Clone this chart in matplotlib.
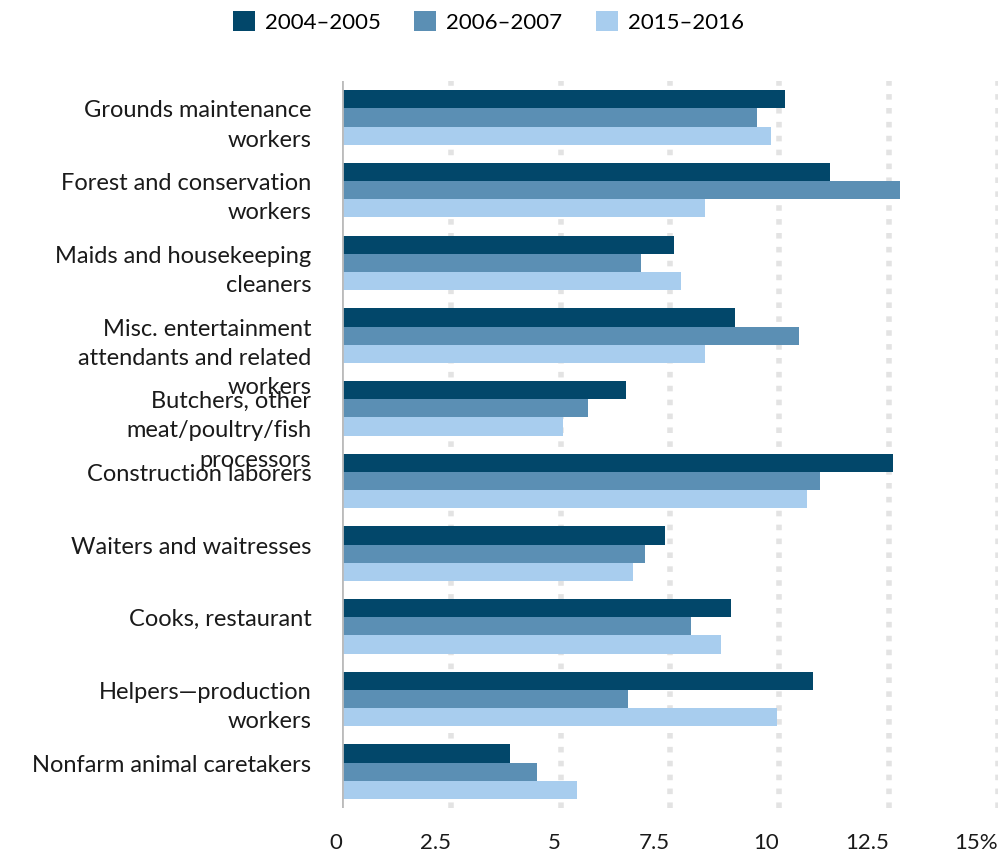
"""
Occupations share chart
Grouped horizontal bars for three periods
"""

import matplotlib.pyplot as plt
import numpy as np

plt.rcParams['font.family'] = ['Lato', 'DejaVu Sans']

DARK = '#02476a'
MID = '#5b8fb4'
LIGHT = '#a8cdee'

occupations = [
    'Grounds maintenance\nworkers',
    'Forest and conservation\nworkers',
    'Maids and housekeeping\ncleaners',
    'Misc. entertainment\nattendants and related\nworkers',
    'Butchers, other\nmeat/poultry/fish\nprocessors',
    'Construction laborers',
    'Waiters and waitresses',
    'Cooks, restaurant',
    'Helpers\u2014production\nworkers',
    'Nonfarm animal caretakers',
]
p2004 = [10.13, 11.15, 7.6, 8.99, 6.5, 12.6, 7.38, 8.9, 10.77, 3.85]
p2006 = [9.5, 12.75, 6.83, 10.45, 5.63, 10.92, 6.92, 7.98, 6.55, 4.45]
p2015 = [9.82, 8.3, 7.75, 8.3, 5.05, 10.63, 6.65, 8.67, 9.95, 5.37]
series_labels = ['2004\u20132005', '2006\u20132007', '2015\u20132016']
xticks = [0, 2.5, 5, 7.5, 10, 12.5, 15]
xtick_labels = ['0', '2.5', '5', '7.5', '10', '12.5', '15%']

fig = plt.figure(figsize=(10.03, 8.55), dpi=100)
ax = fig.add_axes([0.341, 0.055, 0.654, 0.85])

y = np.arange(len(occupations))
h = 0.25
ax.barh(y - h, p2004, height=h, color=DARK, label=series_labels[0], zorder=3)
ax.barh(y, p2006, height=h, color=MID, label=series_labels[1], zorder=3)
ax.barh(y + h, p2015, height=h, color=LIGHT, label=series_labels[2], zorder=3)

ax.set_xlim(0, 15)
ax.set_ylim(len(occupations) - 0.5, -0.5)

# dotted vertical grid
for xv in xticks[1:]:
    ax.axvline(xv, color='#e3e3e3', linewidth=4, linestyle=(0, (1, 1.5)), zorder=1)
ax.axvline(0, color='#bbbbbb', linewidth=2, zorder=4)

for s in ax.spines.values():
    s.set_visible(False)
ax.set_yticks([])
ax.set_xticks(xticks)
ax.set_xticklabels(xtick_labels, fontsize=16, color='#1a1a1a', ha='right')
ax.tick_params(axis='x', length=0, pad=18)

# category labels, top-anchored at the top of each group
for i, name in enumerate(occupations):
    ax.text(-0.7, i - 0.375 + 0.14, name, ha='right', va='top', fontsize=17,
            color='#1a1a1a', linespacing=1.48, multialignment='right')

fig.legend(loc='upper center', bbox_to_anchor=(0.487, 1.0), ncol=3, frameon=False,
           fontsize=16, handlelength=1.0, handleheight=1.0, handletextpad=0.45,
           columnspacing=1.5, borderaxespad=0.1)

plt.savefig('out.png', dpi=100)
plt.close()
